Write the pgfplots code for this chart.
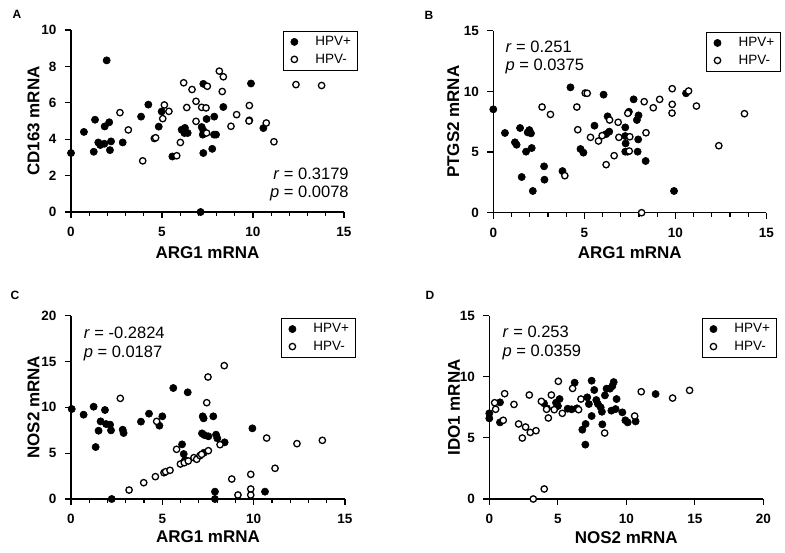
\documentclass[border=0pt]{standalone}
\usepackage{fontspec}
\setmainfont{Liberation Sans}
\usepackage{pgfplots}
\pgfplotsset{compat=1.18}
\newcommand{\tickfont}{\fontsize{13.5}{15}\selectfont\bfseries}
\newcommand{\labfont}{\fontsize{17}{20}\selectfont\bfseries}
\newcommand{\legfont}{\fontsize{13.5}{15}\selectfont}
\newcommand{\ann}{\fontsize{16.5}{19}\selectfont}
\pgfplotsset{
  prism/.style={
    scale only axis, width=273pt, height=182pt,
    axis x line*=bottom, axis y line*=left,
    axis line style={line width=1.5pt,-},
    every tick/.style={black,line width=1.2pt},
    tick align=outside, major tick length=6pt, minor tick length=4pt,
    xmin=0, ymin=0, clip=false,
    /pgf/number format/assume math mode=true,
    xticklabel={\tickfont\pgfmathprintnumber{\tick}},
    yticklabel={\tickfont\pgfmathprintnumber{\tick}},
    xticklabel style={yshift=-6pt},
    yticklabel style={xshift=-5pt},
    xlab/.style={every axis x label/.style={at={(axis description cs:0.5,##1)},anchor=center,font=\labfont}},
    ylab/.style={every axis y label/.style={at={(axis description cs:##1,0.5)},anchor=center,rotate=90,font=\labfont}},
    legend style={draw=black, line width=0.8pt,
      anchor=north east, inner xsep=2pt, inner ysep=3.2pt, row sep=2.7pt,
      nodes={inner ysep=2pt, inner xsep=4.5pt}},
    legend cell align=left,
    legend image code/.code={\path[draw=none] (-9pt,0pt) -- (16.5pt,0pt);\draw[##1] plot coordinates {(0pt,0pt)};},
  },
  pos/.style={only marks, mark=*, mark size=3.6pt, mark options={fill=black,draw=black,line width=0.6pt}},
  neg/.style={only marks, mark=*, mark size=3.2pt, mark options={fill=white,draw=black,line width=1.3pt}},
}
\begin{document}
\begin{tikzpicture}
\path[use as bounding box] (0pt,0pt) rectangle (785pt,552pt);
% ---------------- A
\begin{axis}[prism, xlab=-0.222, ylab=-0.137, at={(71pt,340pt)}, anchor=south west,
  xmax=15, ymax=10, xtick={0,5,10,15}, minor x tick num=4, ytick={0,2,4,6,8,10},
  xlabel={ARG1 mRNA}, ylabel={CD163 mRNA},
  legend style={at={(1.051,0.995)}}]
\addplot[pos] coordinates {(0,3.24) (0.71,4.40) (1.32,5.07) (1.25,3.31) (1.50,3.82) (1.61,3.68) (1.83,3.75) (1.96,8.33) (1.85,4.70) (2.10,4.93) (2.20,3.88) (2.14,3.40) (2.84,3.82) (3.85,5.24) (4.25,5.90) (4.82,4.69) (4.98,5.52) (5.57,3.05) (6.08,4.52) (6.26,4.62) (6.23,4.34) (6.41,4.34) (7.27,7.04) (9.89,7.06) (8.37,5.77) (7.87,5.24) (7.45,5.11) (10.57,4.61) (7.18,4.67) (7.27,4.48) (7.24,4.25) (7.86,4.25) (7.97,4.25) (7.27,3.24) (7.76,3.47) (7.12,0)};
\addlegendentry{\legfont HPV+}
\addplot[neg] coordinates {(2.69,5.46) (3.15,4.51) (3.94,2.81) (4.58,4.04) (4.65,4.08) (5.13,5.88) (5.04,5.13) (5.38,5.53) (5.81,3.09) (6.01,3.82) (6.19,7.10) (6.36,5.74) (6.65,6.73) (6.87,6.08) (6.87,4.98) (7.18,5.75) (7.42,5.72) (7.49,6.91) (7.45,4.34) (8.15,7.74) (8.37,7.43) (8.31,6.62) (8.79,4.71) (9.10,5.35) (9.80,5.85) (9.80,5.04) (9.78,5.00) (10.73,4.89) (11.15,3.86) (12.36,7.0) (13.77,6.95)};
\addlegendentry{\legfont HPV-}
\node[anchor=east,font=\ann] at (rel axis cs:1.03,0.21) {\textit{r} = 0.3179};
\node[anchor=east,font=\ann] at (rel axis cs:1.03,0.10) {\textit{p} = 0.0078};
\end{axis}
% ---------------- B
\begin{axis}[prism, xlab=-0.222, ylab=-0.147, at={(493.3pt,339.3pt)}, anchor=south west,
  xmax=15, ymax=15, xtick={0,5,10,15}, minor x tick num=4, ytick={0,5,10,15},
  xlabel={ARG1 mRNA}, ylabel={PTGS2 mRNA},
  legend style={at={(1.054,0.993)}}]
\addplot[pos] coordinates {(0,8.52) (0.64,6.57) (1.19,5.80) (1.28,5.60) (1.47,6.98) (1.56,2.94) (1.80,5.03) (1.89,6.62) (1.98,6.81) (2.07,6.54) (2.11,5.33) (2.17,1.79) (2.79,3.82) (2.81,2.72) (3.80,3.43) (4.24,10.33) (4.79,5.25) (4.95,4.95) (5.56,7.17) (6.06,9.73) (6.28,7.94) (6.37,6.68) (6.20,6.48) (7.25,7.03) (7.25,6.32) (7.27,5.71) (7.25,5.03) (7.38,5.03) (7.45,8.32) (7.71,9.34) (7.89,7.64) (7.98,8.02) (7.96,6.04) (7.93,5.03) (8.37,4.26) (9.93,1.79) (10.59,9.84)};
\addlegendentry{\legfont HPV+}
\addplot[neg] coordinates {(2.68,8.71) (3.14,8.10) (3.93,3.05) (4.59,8.71) (4.64,6.84) (5.05,9.86) (5.16,9.84) (5.34,6.21) (5.78,5.91) (5.98,6.35) (6.20,3.96) (6.39,7.64) (6.64,4.70) (6.86,7.45) (6.90,6.21) (7.39,8.19) (7.47,5.08) (7.50,6.26) (8.15,0) (8.29,9.15) (8.39,6.59) (8.79,8.65) (9.14,9.34) (9.83,10.22) (9.83,8.93) (9.82,8.21) (10.73,10.03) (11.16,8.79) (12.39,5.52) (13.80,8.16)};
\addlegendentry{\legfont HPV-}
\node[anchor=west,font=\ann] at (rel axis cs:0.032,0.912) {\textit{r} = 0.251};
\node[anchor=west,font=\ann] at (rel axis cs:0.032,0.802) {\textit{p} = 0.0375};
\end{axis}
% ---------------- C
\begin{axis}[prism, xlab=-0.205, ylab=-0.137, at={(71pt,53pt)}, anchor=south west, width=274pt, height=183.3pt,
  xmax=15, ymax=20, xtick={0,5,10,15}, minor x tick num=4, ytick={0,5,10,15,20},
  xlabel={ARG1 mRNA}, ylabel={NOS2 mRNA},
  legend style={at={(1.040,0.987)}}]
\addplot[pos] coordinates {(0.04,9.82) (0.69,9.20) (1.24,10.07) (1.35,5.67) (1.51,7.45) (1.62,8.47) (1.86,9.71) (1.92,8.18) (2.14,8.11) (2.19,7.49) (2.23,0) (2.83,7.56) (2.88,7.20) (3.83,8.44) (4.27,9.31) (4.84,8.00) (5.00,9.02) (5.60,12.11) (6.08,5.96) (6.17,4.91) (6.24,4.25) (6.39,11.64) (7.21,9.02) (7.26,8.80) (7.17,7.16) (7.30,6.98) (7.28,5.05) (7.52,6.84) (7.79,9.02) (7.94,7.02) (8.01,6.62) (7.88,0.80) (7.88,0) (8.41,6.18) (9.93,7.71) (10.62,0.80)};
\addlegendentry{\legfont HPV+}
\addplot[neg] coordinates {(2.70,10.98) (3.18,0.98) (3.98,1.78) (4.62,2.44) (4.69,8.47) (5.09,2.87) (5.18,2.98) (5.42,3.13) (5.78,5.42) (5.99,3.82) (6.20,3.96) (6.42,4.15) (6.73,4.51) (6.88,4.33) (7.06,4.73) (7.15,4.87) (7.43,10.51) (7.50,13.31) (7.52,5.27) (8.16,5.93) (8.39,14.55) (8.80,2.18) (9.14,0.44) (9.84,2.69) (9.84,1.09) (9.84,0.44) (10.71,6.65) (11.17,3.35) (12.37,6.04) (13.76,6.40)};
\addlegendentry{\legfont HPV-}
\node[anchor=west,font=\ann] at (rel axis cs:0.034,0.904) {\textit{r} = -0.2824};
\node[anchor=west,font=\ann] at (rel axis cs:0.034,0.795) {\textit{p} = 0.0187};
\end{axis}
% ---------------- D
\begin{axis}[prism, xlab=-0.213, ylab=-0.129, at={(489.3pt,53pt)}, anchor=south west, width=274pt, height=183.3pt,
  xmax=20, ymax=15, xtick={0,5,10,15,20}, ytick={0,5,10,15},
  xlabel={NOS2 mRNA}, ylabel={IDO1 mRNA},
  legend style={at={(1.050,0.987)}}]
\addplot[pos] coordinates {(0,7.01) (0,6.60) (0.78,7.91) (0.78,6.27) (3.99,7.83) (4.21,7.42) (4.87,7.88) (5.13,8.18) (5.01,7.61) (5.72,7.39) (6.01,7.34) (6.23,9.52) (6.40,7.42) (6.79,5.67) (7.03,6.14) (7.01,4.45) (7.15,8.32) (7.27,7.77) (7.47,9.68) (7.47,6.79) (7.66,8.92) (7.81,8.10) (7.93,7.77) (8.13,7.50) (8.22,7.14) (8.25,6.11) (8.44,8.48) (8.56,9.03) (8.81,9.03) (8.91,7.23) (9.08,9.57) (8.98,9.24) (9.22,7.36) (9.29,8.18) (9.71,7.09) (9.93,6.44) (10.10,6.27) (10.68,6.35) (12.14,8.59)};
\addlegendentry{\legfont HPV+}
\addplot[neg] coordinates {(0.39,7.88) (0.46,7.34) (1.02,6.44) (1.12,8.62) (1.80,7.74) (2.14,6.14) (2.41,4.99) (2.65,5.89) (2.92,8.51) (2.99,5.45) (3.41,5.59) (3.21,0) (3.80,7.99) (4.01,0.82) (4.18,7.34) (4.31,6.63) (4.53,8.51) (4.74,7.31) (5.04,9.63) (5.33,7.01) (6.08,9.05) (6.52,7.31) (6.69,8.18) (8.42,5.40) (10.61,6.79) (11.09,8.78) (13.38,8.26) (14.62,8.89)};
\addlegendentry{\legfont HPV-}
\node[anchor=west,font=\ann] at (rel axis cs:0.036,0.913) {\textit{r} = 0.253};
\node[anchor=west,font=\ann] at (rel axis cs:0.036,0.800) {\textit{p} = 0.0359};
\end{axis}
% panel letters
\node[font=\bfseries\fontsize{12}{14}\selectfont] at (17pt,538pt) {A};
\node[font=\bfseries\fontsize{12}{14}\selectfont] at (429pt,537pt) {B};
\node[font=\bfseries\fontsize{12}{14}\selectfont] at (15pt,257pt) {C};
\node[font=\bfseries\fontsize{12}{14}\selectfont] at (430pt,257pt) {D};
\end{tikzpicture}
\end{document}
